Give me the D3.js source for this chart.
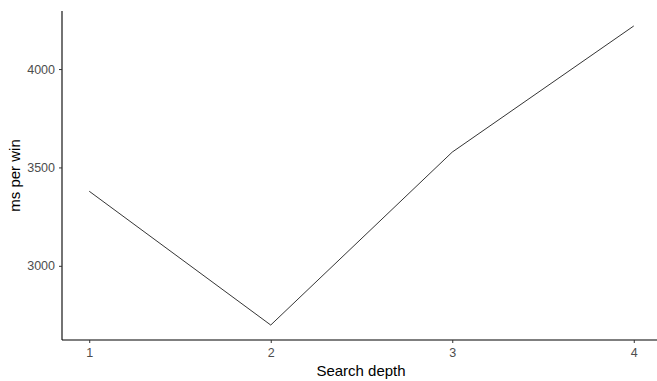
<!DOCTYPE html>
<html><head><meta charset="utf-8">
<script src="https://cdn.jsdelivr.net/npm/d3@7"></script>
<style>body{margin:0;background:#fff}svg{display:block}</style>
</head><body>
<script>
const depths = [1, 2, 3, 4];
const msPerWin = [3379, 2699, 3578, 4219];
const yTicks = [3000, 3500, 4000];
const xTicks = [1, 2, 3, 4];

const W = 657, H = 381;
const m = {left: 62, top: 11, bottom: 41};
const svg = d3.select("body").append("svg").attr("width", W).attr("height", H);

const x = d3.scaleLinear().domain([0.85, 4.15]).range([m.left, 661]);
const yMin = d3.min(msPerWin), yMax = d3.max(msPerWin), pad = (yMax - yMin) * 0.05;
const y = d3.scaleLinear().domain([yMin - pad, yMax + pad]).range([H - m.bottom, m.top]);

const font = "Liberation Sans, Arial, sans-serif";

const gx = svg.append("g").attr("transform", `translate(0,${H - m.bottom})`)
  .call(d3.axisBottom(x).tickValues(xTicks).tickFormat(d3.format("d")).tickSize(3).tickPadding(5));
const gy = svg.append("g").attr("transform", `translate(${m.left},0)`)
  .call(d3.axisLeft(y).tickValues(yTicks).tickFormat(d3.format("d")).tickSize(3).tickPadding(4));
[gx, gy].forEach(g => {
  g.select(".domain").attr("stroke", "#000").attr("stroke-width", 1.1);
  g.selectAll(".tick line").attr("stroke", "#333");
  g.selectAll(".tick text").attr("fill", "#4d4d4d").style("font-family", font).style("font-size", "12.5px");
});
gy.select(".domain").attr("d", `M0,${y.range()[0]}V${y.range()[1]}`);
gx.select(".domain").attr("d", `M${m.left},0H${W}`);

svg.append("path").datum(depths.map((d, i) => [d, msPerWin[i]]))
  .attr("fill", "none").attr("stroke", "#000").attr("stroke-width", 0.8)
  .attr("d", d3.line().x(d => x(d[0])).y(d => y(d[1])));

svg.append("text").attr("x", 361).attr("y", 376).attr("text-anchor", "middle")
  .style("font-family", font).style("font-size", "15px").text("Search depth");
svg.append("text").attr("transform", `translate(20,${(m.top + H - m.bottom) / 2}) rotate(-90)`)
  .attr("text-anchor", "middle").style("font-family", font).style("font-size", "15px").text("ms per win");
</script>
</body></html>
